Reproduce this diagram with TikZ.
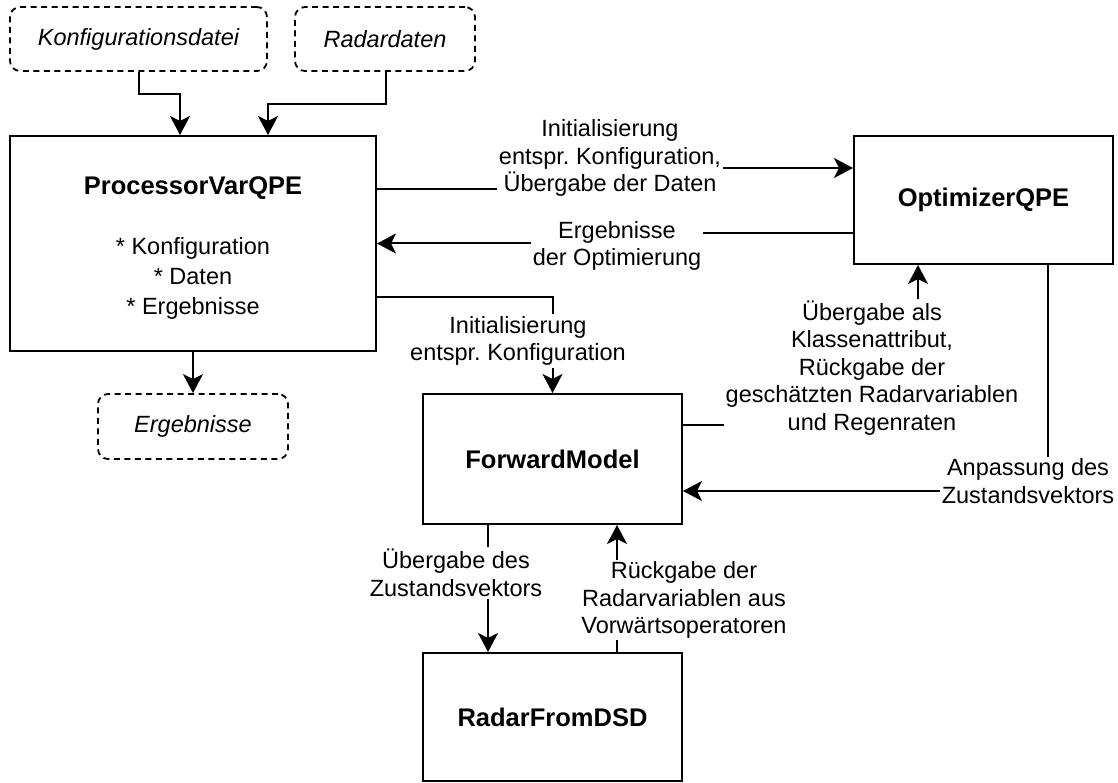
\documentclass[tikz,border=0pt]{standalone}
\usepackage{fontspec}
\setmainfont{Liberation Sans}
\usetikzlibrary{arrows.meta}
\frenchspacing
\begin{document}
\begin{tikzpicture}[x=1pt,y=-1pt,
  every node/.style={font=\fontsize{23.5}{27.5}\selectfont, inner sep=0pt},
  box/.style={draw, line width=2pt, align=center},
  dbox/.style={draw, line width=1.8pt, dash pattern=on 6pt off 4.5pt, rounded corners=10pt,
    font=\fontsize{23.5}{27.5}\selectfont\itshape},
  lbl/.style={fill=white, align=center, inner sep=2pt},
  conn/.style={line width=2pt},
  arr/.style={conn, -{Stealth[length=19pt,width=20pt,inset=5pt]}},
  ttl/.style={font=\fontsize{25.5}{30}\selectfont\bfseries}
]
\useasboundingbox (0,0) rectangle (1118,783);

% nodes
\node[dbox, minimum width=257pt, minimum height=64pt] (konf) at (138.5,39) {Konfigurationsdatei};
\node[dbox, minimum width=180pt, minimum height=64pt] (radar) at (385,39) {Radardaten};
\node[box, minimum width=366pt, minimum height=215pt, font=\fontsize{23.5}{30}\selectfont] (proc) at (193,243.5)
  {\rule{0pt}{27pt}{\fontsize{25.5}{30}\selectfont\bfseries ProcessorVarQPE}\\[30pt]* Konfiguration\\* Daten\\* Ergebnisse};
\node[dbox, minimum width=190pt, minimum height=65pt] (erg) at (193,426.5) {Ergebnisse};
\node[box, ttl, minimum width=259pt, minimum height=128pt] (opt) at (983.5,200) {OptimizerQPE};
\node[box, ttl, minimum width=259pt, minimum height=130pt] (fm) at (552.5,459) {ForwardModel};
\node[box, ttl, minimum width=259pt, minimum height=128pt] (rfd) at (552.5,717) {RadarFromDSD};

% connectors
\draw[arr] (konf.south) -- ++(0,22) -| ([xshift=-13pt]proc.north);
\draw[arr] ([xshift=1pt]radar.south) -- ++(0,32) -| ([xshift=75pt]proc.north);
\draw[arr] (proc.south) -- (erg.north);

\draw[arr] ([yshift=54.5pt]proc.east) -| (610,168) -- ([yshift=32pt]opt.west);
\node[lbl] (l1) at (610,158) {Initialisierung\\entspr. Konfiguration,\\Übergabe der Daten};

\draw[arr] ([yshift=-33pt]opt.west) -| (617,243.5) -- (proc.east);
\node[lbl] (l2) at (617,246) {Ergebnisse\\der Optimierung};

\draw[arr] ([yshift=-53.5pt]proc.east) -| (fm.north);
\node[lbl] (l3) at (518,341) {Initialisierung\\entspr. Konfiguration};

\draw[arr] ([yshift=34pt]fm.east) -| ([xshift=-65.5pt]opt.south);
\node[lbl] (l4) at (872,368) {Übergabe als\\Klassenattribut,\\Rückgabe der\\geschätzten Radarvariablen\\und Regenraten};

\draw[arr] ([xshift=64.5pt]opt.south) |- ([yshift=-32pt]fm.east);
\node[lbl] (l5) at (1028,481) {Anpassung des\\Zustandsvektors};

\draw[arr] ([xshift=-64.5pt]fm.south) -- ([xshift=-64.5pt]rfd.north);
\node[lbl] (l6) at (456,573) {Übergabe des\\Zustandsvektors};

\draw[arr] ([xshift=64.5pt]rfd.north) -- ([xshift=64.5pt]fm.south);
\node[lbl] (l7) at (684,600) {Rückgabe der\\Radarvariablen aus\\Vorwärtsoperatoren};
\end{tikzpicture}
\end{document}
